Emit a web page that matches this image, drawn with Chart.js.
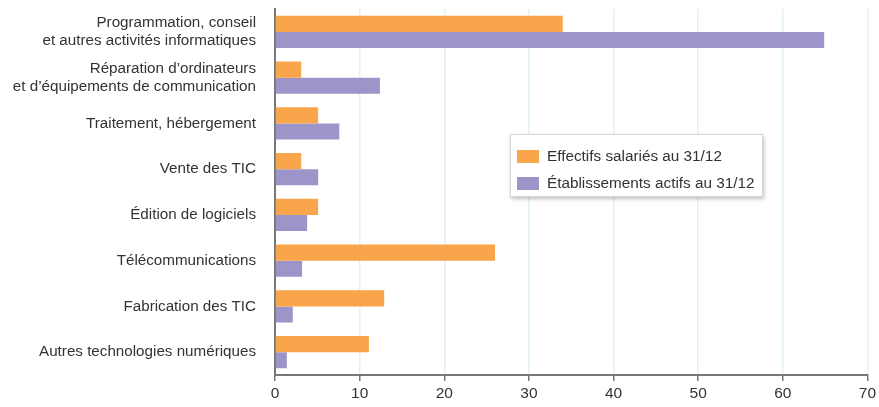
<!DOCTYPE html>
<html lang="fr">
<head>
<meta charset="utf-8">
<script src="https://cdn.jsdelivr.net/npm/chart.js@4"></script>
<style>
  html, body { margin: 0; padding: 0; background: #fff; }
  #wrap { position: relative; width: 879px; height: 407px; }
  #legende {
    position: absolute; left: 510px; top: 134px; width: 251px; height: 61px;
    border: 1px solid #d6d6d6; background: #fff;
    box-shadow: 1px 2px 4px rgba(0,0,0,0.25);
    font-family: "Liberation Sans", Arial, sans-serif; font-size: 15.3px; color: #333;
  }
  .item { position: absolute; left: 6px; height: 16px; line-height: 16px; white-space: nowrap; }
  .item span.carre { display: inline-block; width: 22px; height: 13px; vertical-align: -2px; margin-right: 8px; }
</style>
</head>
<body>
<div id="wrap">
  <canvas id="grafico" width="879" height="407"></canvas>
  <div id="legende"></div>
</div>
<script>
// Catégories (libellés sur plusieurs lignes)
var categories = [
  ['Programmation, conseil', 'et autres activités informatiques'],
  ['Réparation d\u2019ordinateurs', 'et d\u2019équipements de communication'],
  'Traitement, hébergement',
  'Vente des TIC',
  'Édition de logiciels',
  'Télécommunications',
  'Fabrication des TIC',
  'Autres technologies numériques'
];

// Valeurs
var effectifs = [34.0, 3.1, 5.1, 3.1, 5.1, 26.0, 12.9, 11.1];
var etablissements = [64.9, 12.4, 7.6, 5.1, 3.8, 3.2, 2.1, 1.4];

var nomsSeries = ['Effectifs salariés au 31/12', 'Établissements actifs au 31/12'];
var couleurs = ['#F9A54B', '#9B95C9'];
var ticksX = [0, 10, 20, 30, 40, 50, 60, 70];

var police = '"Liberation Sans", Arial, sans-serif';

var ctx = document.getElementById('grafico').getContext('2d');

var grafico = new Chart(ctx, {
  type: 'bar',
  data: {
    labels: categories,
    datasets: [{
      label: nomsSeries[0],
      data: effectifs,
      backgroundColor: couleurs[0],
      categoryPercentage: 0.7,
      barPercentage: 1.0
    }, {
      label: nomsSeries[1],
      data: etablissements,
      backgroundColor: couleurs[1],
      categoryPercentage: 0.7,
      barPercentage: 1.0
    }]
  },
  options: {
    indexAxis: 'y',
    responsive: false,
    animation: false,
    layout: { padding: { left: 0, right: 11, top: 9, bottom: 0 } },
    plugins: {
      legend: { display: false },
      tooltip: { enabled: false }
    },
    scales: {
      x: {
        min: ticksX[0],
        max: ticksX[ticksX.length - 1],
        afterBuildTicks: function (scale) {
          scale.ticks = ticksX.map(function (v) { return { value: v }; });
        },
        afterFit: function (scale) { scale.height = 32; },
        grid: {
          color: '#e3f1f7',
          lineWidth: 1.5,
          tickColor: '#777',
          tickLength: 6
        },
        border: { color: '#777', width: 2 },
        ticks: {
          color: '#333',
          padding: 3,
          font: { family: police, size: 15.5 }
        }
      },
      y: {
        afterFit: function (scale) {
          scale.width = 275;
          scale.paddingTop = 0;
          scale.paddingBottom = 0;
        },
        grid: { drawOnChartArea: false, drawTicks: false },
        border: { color: '#777', width: 2 },
        ticks: {
          color: '#333',
          padding: 19,
          font: { family: police, size: 15.2, lineHeight: 1.2 }
        }
      }
    }
  }
});

// Légende HTML construite à partir des séries
var legende = document.getElementById('legende');
nomsSeries.forEach(function (nom, i) {
  var div = document.createElement('div');
  div.className = 'item';
  div.style.top = (13 + i * 27) + 'px';
  div.innerHTML = '<span class="carre" style="background:' + couleurs[i] + '"></span>' + nom;
  legende.appendChild(div);
});
</script>
</body>
</html>
